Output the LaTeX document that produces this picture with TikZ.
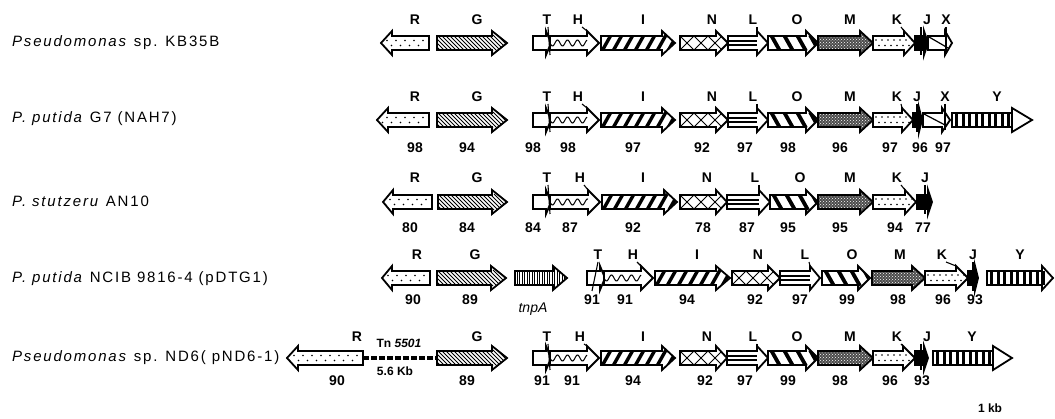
\documentclass[tikz,border=0pt]{standalone}
\usepackage{fontspec}
\setmainfont{Liberation Sans}
\usetikzlibrary{patterns}

% arrow outline in local coordinates: body length #1, total length #2
\newcommand\gshape[2]{(0,-7) -- (#1,-7) -- (#1,-12) -- (#2,0) -- (#1,12) -- (#1,7) -- (0,7) -- cycle}
% gene: #1 x start, #2 y, #3 body, #4 total, #5 direction, #6 pattern
\newcommand\gene[6]{%
  \begin{scope}[shift={(#1,#2)},xscale=#5]
    \fill[white] \gshape{#3}{#4};
    \begin{scope}
      \clip \gshape{#3}{#4};
      \csname gp#6\endcsname{#3}{#4}
    \end{scope}
    \draw[geneline] \gshape{#3}{#4};
  \end{scope}}
% fill patterns
\newcommand\gpW[2]{}
\newcommand\gpR[2]{\foreach \k in {6,15,...,#2}{\fill (\k,-2.5) circle (0.9); \fill (\k+4.5,2.5) circle (0.9);}}
\newcommand\gpG[2]{\foreach \k in {-16,-12,...,#2}{\draw[line width=1] (\k,-8) -- (\k+16,8);}}
\newcommand\gpH[2]{\draw[line width=1] plot[domain=0:#1,samples=80] (\x,{3*sin(36*\x)});}
\newcommand\gpI[2]{\foreach \k in {-10,1,...,#2}{\draw[line width=3.4] (\k,8) -- (\k+9,-8);}}
\newcommand\gpN[2]{\foreach \k in {0,14,...,#2}{\draw[line width=0.9] (\k,-7) -- (\k+14,7); \draw[line width=0.9] (\k,7) -- (\k+14,-7);}}
\newcommand\gpL[2]{\draw[line width=2] (0,-2.4) -- (#1,-2.4); \draw[line width=2] (0,2.4) -- (#1,2.4);}
\newcommand\gpO[2]{\foreach \k in {-10,3,...,#2}{\draw[line width=3.8] (\k,-8) -- (\k+9,8);}}
\newcommand\gpM[2]{\fill[black!70] (-1,-13) rectangle (#2+1,13); \fill[pattern=crosshatch dots,pattern color=white] (-1,-13) rectangle (#2+1,13);}
\newcommand\gpK[2]{\foreach \k in {3,9,...,#2}{\fill (\k,-3) circle (0.8); \fill (\k+3,2.5) circle (0.8);}}
\newcommand\gpJ[2]{\fill (-1,-13) rectangle (#2+1,13);}
\newcommand\gpX[2]{\draw[line width=1.2] (1,-6) -- (#1+3,5);}
\newcommand\gpY[2]{\foreach \k in {3,9.5,...,#1}{\fill (\k,-7) rectangle (\k+3.2,7);} \draw[line width=2.4] (#1,-12) -- (#1,12);}
\newcommand\gpP[2]{\foreach \k in {2,4.5,...,#2}{\draw[line width=1] (\k,-13) -- (\k,13);}}

\tikzset{
  geneline/.style={line width=1.8,line join=miter},
  glabel/.style={font=\fontsize{14}{14}\selectfont\bfseries,inner sep=0pt},
  num/.style={font=\fontsize{14}{14}\selectfont\bfseries,inner sep=0pt},
  species/.style={font=\fontsize{15}{15}\selectfont\addfontfeature{LetterSpace=12},anchor=west,inner sep=0pt},
  lead/.style={line width=1.1}
}

\begin{document}
\begin{tikzpicture}[x=1pt,y=-1pt]
\useasboundingbox (0,0) rectangle (1055,419);

% species labels
\node[species] (s1) at (12,43) {\textit{Pseudomonas} sp. KB35B};
\node[species] (s2) at (12,119) {\textit{P. putida} G7 (NAH7)};
\node[species] (s3) at (12,201) {\textit{P. stutzeru} AN10};
\node[species] (s4) at (12,279) {\textit{P. putida} NCIB 9816-4 (pDTG1)};
\node[species] (s5) at (12,358) {\textit{Pseudomonas} sp. ND6( pND6-1)};

% ---------- row 1 ----------
\gene{429}{43}{37}{48}{-1}{R}
\foreach \xs/\b/\t/\p in {437/55/70/G, 533/13/18/W, 550/37/49/H, 601/61/74/I, 680/36/48/N, 728/29/40/L, 768/38/50/O, 818/42/55/M, 873/31/42/K, 915/9/13/J, 928/17/24/X}
  {\gene{\xs}{43}{\b}{\t}{1}{\p}}
\foreach \x/\l [count=\i] in {415/R,477/G,547/T,578/H,643/I,712/N,753/L,797/O,850/M,897/K,927/J,946/X}
  {\node[glabel] (l1-\i) at (\x,20) {\l};}
\draw[lead] (548,27) -- (550,55);
\draw[lead] (582,27) -- (587,31);
\draw[lead] (757,27) -- (757,31);
\draw[lead] (901,27) -- (904,31);
\draw[lead] (921,27) -- (921,55);
\draw[lead] (946,27) -- (946,53);

% ---------- row 2 ----------
\gene{429}{120}{41}{52}{-1}{R}
\foreach \xs/\b/\t/\p in {437/55/70/G, 533/13/18/W, 550/37/49/H, 601/61/74/I, 680/36/48/N, 728/29/40/L, 768/38/50/O, 818/42/55/M, 873/29/40/K, 913/6/9/J, 923/19/27/X, 952/60/80/Y}
  {\gene{\xs}{120}{\b}{\t}{1}{\p}}
\foreach \x/\l [count=\i] in {415/R,477/G,547/T,578/H,643/I,712/N,753/L,797/O,850/M,897/K,917/J,945/X,997/Y}
  {\node[glabel] (l2-\i) at (\x,97) {\l};}
\foreach \x/\l [count=\i] in {415/98,467/94,533/98,568/98,633/97,702/92,745/97,788/98,840/96,890/97,920/96,943/97}
  {\node[num] (n2-\i) at (\x,148) {\l};}
\draw[lead] (548,104) -- (550,132);
\draw[lead] (582,104) -- (587,108);
\draw[lead] (757,104) -- (757,108);
\draw[lead] (901,104) -- (902,108);
\draw[lead] (917,104) -- (917,132);
\draw[lead] (945,104) -- (945,130);

% ---------- row 3 ----------
\gene{432}{202}{39}{49}{-1}{R}
\foreach \xs/\b/\t/\p in {438/54/69/G, 533/13/18/W, 550/38/50/H, 602/62/75/I, 680/36/47/N, 727/32/43/L, 770/36/48/O, 818/42/55/M, 873/32/43/K, 917/11/15/J}
  {\gene{\xs}{202}{\b}{\t}{1}{\p}}
\foreach \x/\l [count=\i] in {415/R,477/G,547/T,580/H,643/I,707/N,755/L,800/O,850/M,897/K,925/J}
  {\node[glabel] (l3-\i) at (\x,178) {\l};}
\foreach \x/\l [count=\i] in {410/80,467/84,533/84,570/87,633/92,703/78,747/87,788/95,840/95,895/94,923/77}
  {\node[num] (n3-\i) at (\x,228) {\l};}
\draw[lead] (548,185) -- (550,214);
\draw[lead] (584,185) -- (588,190);
\draw[lead] (759,185) -- (759,190);
\draw[lead] (901,185) -- (905,190);
\draw[lead] (925,185) -- (925,214);

% ---------- row 4 ----------
\gene{430}{278}{38}{48}{-1}{R}
\foreach \xs/\b/\t/\p in {437/54/69/G, 515/38/52/P, 587/13/18/W, 604/37/49/H, 655/61/75/I, 732/36/48/N, 780/30/40/L, 822/36/48/O, 872/40/53/M, 925/31/43/K, 968/7/10/J, 987/55/66/Y}
  {\gene{\xs}{278}{\b}{\t}{1}{\p}}
\foreach \x/\l [count=\i] in {417/R,475/G,598/T,633/H,697/I,758/N,805/L,852/O,900/M,942/K,973/J,1020/Y}
  {\node[glabel] (l4-\i) at (\x,255) {\l};}
\foreach \x/\l [count=\i] in {413/90,470/89,592/91,625/91,687/94,755/92,800/97,847/99,898/98,943/96,975/93}
  {\node[num] (n4-\i) at (\x,300) {\l};}
\node[font=\fontsize{14}{14}\selectfont\itshape,inner sep=0pt] (tnpa) at (533,309) {tnpA};
\draw[lead] (598,262) -- (592,291);
\draw[lead] (637,262) -- (641,266);
\draw[lead] (809,262) -- (810,266);
\draw[lead] (946,262) -- (956,266);
\draw[lead] (973,262) -- (973,291);

% ---------- row 5 ----------
\gene{363}{358}{65}{76}{-1}{R}
\coordinate (tn1) at (363,358);
\coordinate (tn2) at (437,358);
\draw[line width=3.5,dash pattern=on 6pt off 2pt] (tn1) -- (tn2);
\node[font=\fontsize{12}{12}\selectfont\bfseries,inner sep=0pt] (tn) at (399,343) {Tn \textit{5501}};
\node[font=\fontsize{12}{12}\selectfont\bfseries,inner sep=0pt] (kb) at (395,371) {5.6 Kb};
\foreach \xs/\b/\t/\p in {437/55/70/G, 533/13/18/W, 550/37/49/H, 601/61/74/I, 680/36/47/N, 727/30/41/L, 768/38/50/O, 818/42/55/M, 873/30/42/K, 915/9/13/J, 933/60/79/Y}
  {\gene{\xs}{358}{\b}{\t}{1}{\p}}
\foreach \x/\l [count=\i] in {357/R,477/G,547/T,580/H,643/I,707/N,753/L,797/O,850/M,897/K,927/J,972/Y}
  {\node[glabel] (l5-\i) at (\x,337) {\l};}
\foreach \x/\l [count=\i] in {337/90,467/89,542/91,572/91,633/94,705/92,745/97,788/99,840/98,890/96,922/93}
  {\node[num] (n5-\i) at (\x,381) {\l};}
\draw[lead] (548,344) -- (550,370);
\draw[lead] (584,344) -- (587,346);
\draw[lead] (757,344) -- (757,346);
\draw[lead] (901,344) -- (903,346);
\draw[lead] (921,344) -- (921,370);

% scale note
\node[font=\fontsize{12}{12}\selectfont\bfseries,inner sep=0pt] (kbscale) at (990,408) {1 kb};
\end{tikzpicture}
\end{document}
